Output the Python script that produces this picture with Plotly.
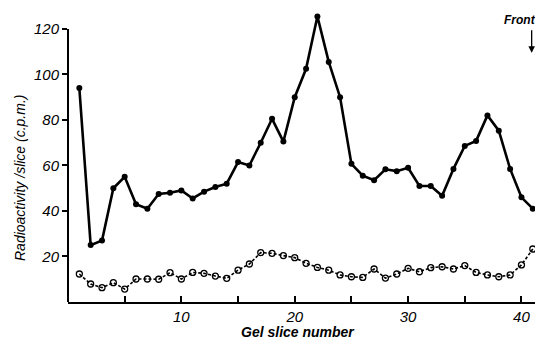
import plotly.graph_objects as go

slices = list(range(1, 42))
closed_cpm = [94, 25, 27, 50, 55, 43, 41, 47.5, 48, 49, 45.5, 48.5, 50.5, 52, 61.5,
              60, 70, 80.5, 70.5, 90, 102.5, 125.5, 105.5, 90, 60.7, 55.5, 53.5, 58.3,
              57.5, 59, 51, 51, 46.7, 58.5, 68.6, 70.8, 82, 75.3, 58.5, 46, 41]
open_cpm = [12.3, 7.9, 6.3, 8.5, 5.7, 10.1, 10.1, 10, 12.9, 10.1, 13, 12.6, 11.4, 10.4,
            14, 16.7, 21.7, 21.4, 20.4, 19.5, 17, 15.2, 14, 11.9, 11.1, 10.8, 14.5, 10.5,
            12.3, 14.8, 13.3, 15.1, 15.5, 14.5, 16, 13, 11.9, 11.1, 11.9, 16.3, 23.3]
x_tickvals = [5, 10, 15, 20, 25, 30, 35, 40]
x_ticktext = ["", "10", "", "20", "", "30", "", "40"]
y_tickvals = [20, 40, 60, 80, 100, 120]
y_axis_top = 120

FONT = "Liberation Sans"

fig = go.Figure()
fig.add_trace(go.Scatter(
    x=slices, y=open_cpm, mode="lines+markers",
    line=dict(color="black", width=1.6, dash="3px,2px"),
    marker=dict(symbol="circle-open", size=6, color="black", line=dict(width=1.3)),
    showlegend=False, cliponaxis=False))
fig.add_trace(go.Scatter(
    x=slices, y=closed_cpm, mode="lines+markers",
    line=dict(color="black", width=2.6),
    marker=dict(symbol="circle", size=6, color="black"),
    showlegend=False, cliponaxis=False))

fig.add_shape(type="line", xref="paper", yref="y", x0=0, x1=0, y0=0, y1=y_axis_top,
              line=dict(color="black", width=2))

fig.update_layout(
    width=535, height=338,
    margin=dict(l=60, r=0, t=5, b=44),
    plot_bgcolor="white", paper_bgcolor="white",
    font=dict(family=FONT, color="black"),
    xaxis=dict(range=[0, 41.9], showgrid=False, zeroline=False,
               showline=True, linecolor="black", linewidth=2,
               tickmode="array", tickvals=x_tickvals, ticktext=x_ticktext,
               ticks="inside", ticklen=6, tickwidth=1.5, tickcolor="black",
               tickfont=dict(size=15, style="italic", family=FONT)),
    yaxis=dict(range=[0, 127], showgrid=False, zeroline=False,
               showline=False,
               tickmode="array", tickvals=y_tickvals,
               ticks="outside", ticklen=5, tickwidth=1.5, tickcolor="black",
               tickfont=dict(size=15, style="italic", family=FONT)),
    annotations=[
        dict(text="Radioactivity /slice (c.p.m.)", xref="paper", y=54.5, yref="y",
             x=-0.101, xanchor="center", yanchor="middle", textangle=-90,
             showarrow=False, font=dict(size=14, style="italic", family=FONT)),
        dict(text="Gel slice number", xref="paper", yref="paper",
             x=0.484, y=-0.104, xanchor="center", yanchor="middle",
             showarrow=False, font=dict(size=14, style="italic", weight="bold", family=FONT)),
        dict(text="Front", xref="paper", yref="y", x=0.99, y=124,
             xanchor="right", yanchor="middle", showarrow=False,
             font=dict(size=12, style="italic", weight="bold", family=FONT)),
        dict(text="", x=40.9, y=109.5, xref="x", yref="y",
             showarrow=True, ax=0, ay=-24, arrowhead=2, arrowsize=1, arrowwidth=1.3,
             arrowcolor="black", standoff=0),
    ],
)

fig.write_html("out.html")
